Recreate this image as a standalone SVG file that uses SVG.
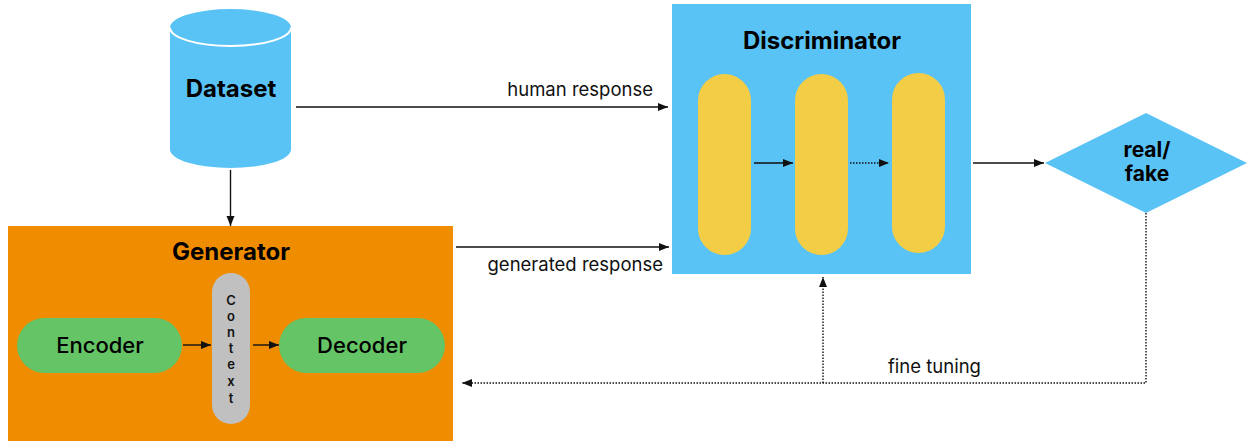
<svg xmlns="http://www.w3.org/2000/svg" width="1249" height="441" viewBox="0 0 1249 441">
  <style>
    .title { font-family: Inter, "Liberation Sans", sans-serif; font-weight: 700; font-size: 24px; fill: #000; text-anchor: middle; }
    .small-title { font-family: Inter, "Liberation Sans", sans-serif; font-weight: 700; font-size: 21px; fill: #000; text-anchor: middle; }
    .label { font-family: Inter, "Liberation Sans", sans-serif; font-weight: 500; font-size: 22px; fill: #000; text-anchor: middle; }
    .edge-label { font-family: Inter, "Liberation Sans", sans-serif; font-size: 18.5px; fill: #111; }
    .ctx { font-family: Inter, "Liberation Sans", sans-serif; font-weight: 600; font-size: 13px; fill: #111; text-anchor: middle; }
    .blue { fill: #5AC3F6; }
    .yellow { fill: #F4CD46; }
    .green { fill: #64C466; }
    .conn { fill: none; stroke: #111; stroke-width: 1.4; }
    .dotted { stroke-dasharray: 1.5 1.5; }
  </style>
  <defs>
    <marker id="arrow" viewBox="0 0 10 10" refX="10" refY="5" markerWidth="10" markerHeight="10" markerUnits="userSpaceOnUse" orient="auto">
      <path d="M0,1 L10,5 L0,9 Z" fill="#111"/>
    </marker>
  </defs>

  <!-- Dataset cylinder -->
  <g id="dataset">
    <path class="blue" d="M170,27.5 L170,149.5 A60.5,18.5 0 0 0 291,149.5 L291,27.5 Z"/>
    <ellipse class="blue" cx="230.5" cy="27.5" rx="60.5" ry="18.5" stroke="#fff" stroke-width="2"/>
    <path class="blue" d="M170,27.5 A60.5,18.5 0 0 1 291,27.5 Z"/>
    <text class="title" x="231" y="97">Dataset</text>
  </g>

  <!-- Generator block -->
  <g id="generator">
    <rect x="8" y="226" width="445" height="215" fill="#F08C00"/>
    <text class="title" x="231" y="260">Generator</text>
  </g>
  <g id="encoder">
    <rect class="green" x="17" y="318" width="165" height="55" rx="27.5"/>
    <text class="label" x="100" y="353">Encoder</text>
  </g>
  <g id="context">
    <rect x="212" y="273" width="38" height="151" rx="19" fill="#C0C0C0"/>
    <text class="ctx" x="231" y="305">C</text>
    <text class="ctx" x="231" y="321">o</text>
    <text class="ctx" x="231" y="337">n</text>
    <text class="ctx" x="231" y="353">t</text>
    <text class="ctx" x="231" y="369">e</text>
    <text class="ctx" x="231" y="386">x</text>
    <text class="ctx" x="231" y="403">t</text>
  </g>
  <g id="decoder">
    <rect class="green" x="279" y="318" width="166" height="55" rx="27.5"/>
    <text class="label" x="362" y="353">Decoder</text>
  </g>

  <!-- Discriminator block -->
  <g id="discriminator">
    <rect class="blue" x="672" y="4" width="299" height="270"/>
    <text class="title" x="822" y="49">Discriminator</text>
  </g>
  <g id="layer1"><rect class="yellow" x="698" y="74" width="53" height="181" rx="26.5"/></g>
  <g id="layer2"><rect class="yellow" x="795" y="74" width="53" height="181" rx="26.5"/></g>
  <g id="layer3"><rect class="yellow" x="892" y="73" width="53" height="180" rx="26.5"/></g>

  <!-- Decision -->
  <g id="decision">
    <polygon class="blue" points="1045,163 1146,113 1247,163 1146,213"/>
    <text class="small-title" x="1147" y="157">real/</text>
    <text class="small-title" x="1147" y="181">fake</text>
  </g>

  <!-- Connectors -->
  <g id="connectors">
    <line class="conn" x1="230.5" y1="170" x2="230.5" y2="226" marker-end="url(#arrow)"/>
    <line class="conn" x1="183" y1="345" x2="211" y2="345" marker-end="url(#arrow)"/>
    <line class="conn" x1="253" y1="345" x2="279" y2="345" marker-end="url(#arrow)"/>
    <line class="conn" x1="296" y1="107" x2="668" y2="107" stroke="#333" marker-end="url(#arrow)"/>
    <text class="edge-label" x="653" y="96" text-anchor="end">human response</text>
    <line class="conn" x1="456" y1="247" x2="669" y2="247" marker-end="url(#arrow)"/>
    <text class="edge-label" x="663" y="271" text-anchor="end">generated response</text>
    <line class="conn" x1="754" y1="163" x2="793" y2="163" marker-end="url(#arrow)"/>
    <line class="conn dotted" x1="850" y1="163" x2="889" y2="163" marker-end="url(#arrow)"/>
    <line class="conn" x1="973" y1="163" x2="1044" y2="163" marker-end="url(#arrow)"/>
    <polyline class="conn dotted" points="1146,213 1146,383 462,383" marker-end="url(#arrow)"/>
    <line class="conn dotted" x1="823" y1="383" x2="823" y2="277" marker-end="url(#arrow)"/>
    <text class="edge-label" x="888" y="373">fine tuning</text>
  </g>
</svg>
